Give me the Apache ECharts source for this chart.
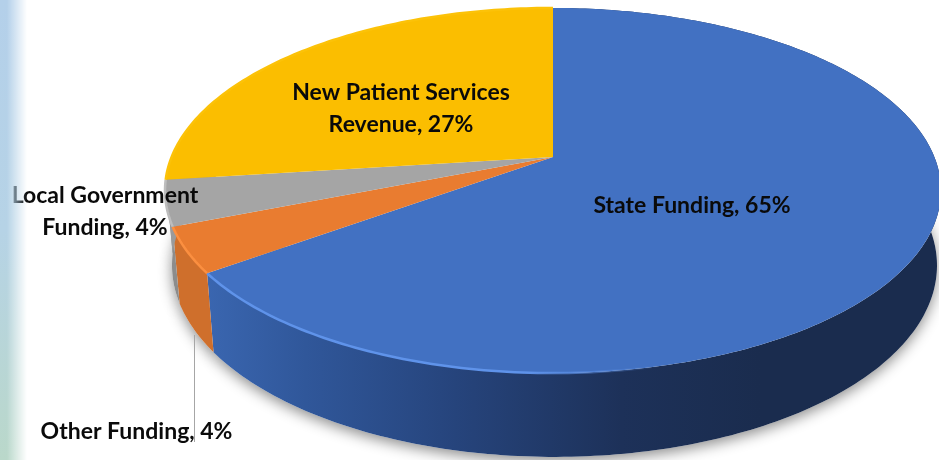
<!DOCTYPE html>
<html>
<head>
<meta charset="utf-8">
<style>
html, body { margin: 0; padding: 0; background: #fff; }
#pie { width: 939px; height: 460px; filter: blur(0.5px); }
/* pale strip down the left edge of the slide, it lies over the chart */
#strip {
    position: absolute; left: 0; top: 0; width: 28px; height: 460px;
    pointer-events: none;
    background: linear-gradient(to bottom, #B4D0EA 0%, #B6D3E6 50%, #BAD8CA 100%);
    -webkit-mask-image: linear-gradient(to right, #000 7px, transparent 27px);
    mask-image: linear-gradient(to right, #000 7px, transparent 27px);
}
</style>
<script src="https://cdn.jsdelivr.net/npm/echarts@6/dist/echarts.min.js"></script>
</head>
<body>
<div id="pie"></div>
<div id="strip"></div>
<script>
// chart data, clockwise from 12 o'clock
var categories = ['State Funding', 'Other Funding', 'Local Government Funding', 'New Patient Services Revenue'];
var shares = [65, 4, 4, 27];

var topColors = ['#4271C2', '#E97C30', '#A5A5A5', '#FBBE00'];
var rimColors = ['#5F93EA', '#FB8F40', '#BDBDBD', '#FCC208'];
var sideColors = ['#2F5597', '#CF6F2C', '#8C8C8C', '#9A9A9A'];

// where each label sits: centre x, first line y, words on the first line
var labelSpots = [
    { x: 692, y: 206, firstLine: 4 },
    { x: 136.5, y: 432, firstLine: 4 },
    { x: 105, y: 196, firstLine: 2 },
    { x: 401, y: 93, firstLine: 3 }
];

// the flat 3d look: disc plane to screen, k is the perspective tilt
var k = 0.1836;
var topFace = { x0: 553, y0: 157, rx: 381.4, ry: 176.4 };
var bottomFace = { x0: 554.5, y0: 230.3, rx: 376, ry: 185 };

function project(face, theta) {
    var u = Math.sin(theta);
    var v = Math.cos(theta);
    var w = 1 + k * v;
    return [face.x0 + face.rx * u / w, face.y0 - face.ry * v / w];
}

function arc(face, from, to) {
    var pts = [];
    var n = Math.max(2, Math.ceil((to - from) * 60));
    for (var i = 0; i <= n; i++) {
        pts.push(project(face, from + (to - from) * i / n));
    }
    return pts;
}

// value -> angle, running total
var sliceData = [];
var total = shares.reduce(function (a, b) { return a + b; }, 0);
var running = 0;
shares.forEach(function (s, i) {
    sliceData.push([running / total * Math.PI * 2, (running + s) / total * Math.PI * 2, i]);
    running += s;
});

function stopsFill(x1, x2, stops) {
    return new echarts.graphic.LinearGradient(x1, 0, x2, 0, stops, true);
}

function sideFill(i) {
    if (i === 0) {
        return stopsFill(206, 760, [
            { offset: 0, color: '#3A66B0' },
            { offset: 0.18, color: '#30579A' },
            { offset: 0.45, color: '#26447C' },
            { offset: 0.75, color: '#1D3159' },
            { offset: 1, color: '#1A2C4E' }
        ]);
    }
    return sideColors[i];
}

function rimStroke(i) {
    if (i === 0) {
        return stopsFill(206, 660, [
            { offset: 0, color: rimColors[0] },
            { offset: 0.7, color: rimColors[0] },
            { offset: 1, color: 'rgba(95,147,234,0)' }
        ]);
    }
    return rimColors[i];
}

function renderShadow(params, api) {
    var pts = arc(bottomFace, api.value(0), api.value(1));
    pts.push([bottomFace.x0, bottomFace.y0]);
    return {
        type: 'polygon',
        shape: { points: pts },
        style: {
            fill: '#fff',
            shadowBlur: 14,
            shadowColor: 'rgba(0,0,0,0.45)',
            shadowOffsetY: 4
        }
    };
}

function renderSide(params, api) {
    var i = api.value(2);
    var a = arc(topFace, api.value(0), api.value(1));
    var b = arc(bottomFace, api.value(0), api.value(1)).reverse();
    return {
        type: 'polygon',
        shape: { points: a.concat(b) },
        style: { fill: sideFill(i) }
    };
}

function renderTop(params, api) {
    var i = api.value(2);
    var from = api.value(0);
    var to = api.value(1);
    var pts = arc(topFace, from, to);
    // blue slice only catches the light on its front edge
    var rimFrom = i === 0 ? Math.PI * 0.9 : from;
    return {
        type: 'group',
        children: [
            {
                type: 'polygon',
                shape: { points: pts.concat([[topFace.x0, topFace.y0]]) },
                style: { fill: topColors[i] }
            },
            {
                type: 'polyline',
                shape: { points: arc(topFace, rimFrom, to) },
                style: { fill: null, stroke: rimStroke(i), lineWidth: 2.5 }
            }
        ]
    };
}

function renderLabel(params, api) {
    var i = api.value(2);
    var spot = labelSpots[i];
    var words = (categories[i] + ', ' + shares[i] + '%').split(' ');
    var lines = [words.slice(0, spot.firstLine).join(' '), words.slice(spot.firstLine).join(' ')];
    var children = [];
    // Other Funding has a leader line up to its slice
    if (i === 1) {
        children.push({
            type: 'line',
            shape: { x1: 194.5, y1: 335, x2: 194.5, y2: 442 },
            style: { stroke: '#A6A6A6', lineWidth: 1 }
        });
    }
    lines.forEach(function (line, n) {
        if (!line) {
            return;
        }
        children.push({
            type: 'text',
            style: {
                text: line,
                x: spot.x,
                y: spot.y + n * 32,
                align: 'center',
                verticalAlign: 'middle',
                fill: '#0A0A0A',
                font: 'bold 23px Lato'
            }
        });
    });
    return { type: 'group', children: children };
}

var myChart = echarts.init(document.getElementById('pie'));

var option = {
    animation: false,
    backgroundColor: '#fff',
    series: [
        { type: 'custom', coordinateSystem: 'none', z: 1, data: sliceData, renderItem: renderShadow, silent: true },
        { type: 'custom', coordinateSystem: 'none', z: 2, data: sliceData, renderItem: renderSide, silent: true },
        { type: 'custom', coordinateSystem: 'none', z: 3, data: sliceData, renderItem: renderTop, silent: true },
        { type: 'custom', coordinateSystem: 'none', z: 4, data: sliceData, renderItem: renderLabel, silent: true }
    ]
};
myChart.setOption(option);
</script>
</body>
</html>
